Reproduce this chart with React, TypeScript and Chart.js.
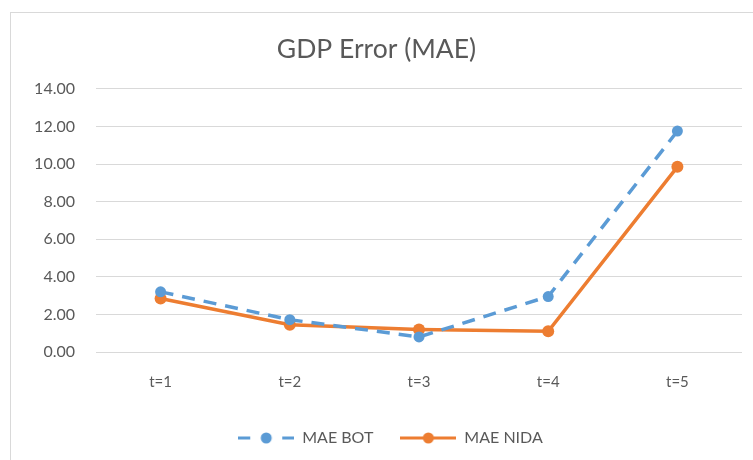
import React, { useEffect, useRef } from "react";
import { Chart, registerables } from "chart.js";

Chart.register(...registerables);

const categories = ["t=1", "t=2", "t=3", "t=4", "t=5"];
const maeBot = [3.2, 1.72, 0.8, 2.95, 11.75];
const maeNida = [2.85, 1.45, 1.2, 1.1, 9.85];
const yTicks = [0, 2, 4, 6, 8, 10, 12, 14];

const BLUE = "#5B9BD5";
const ORANGE = "#ED7D31";
const TEXT = "#595959";
const FONT = "Lato, 'Open Sans', sans-serif";

function makeLegendIcon(color: string, dashed: boolean): HTMLCanvasElement {
  const c = document.createElement("canvas");
  c.width = 56;
  c.height = 14;
  const ctx = c.getContext("2d")!;
  ctx.strokeStyle = color;
  ctx.fillStyle = color;
  ctx.lineWidth = 3;
  ctx.beginPath();
  if (dashed) {
    ctx.moveTo(0, 7);
    ctx.lineTo(12, 7);
    ctx.moveTo(44, 7);
    ctx.lineTo(56, 7);
  } else {
    ctx.moveTo(0, 7);
    ctx.lineTo(56, 7);
  }
  ctx.stroke();
  ctx.beginPath();
  ctx.arc(28, 7, 5.5, 0, Math.PI * 2);
  ctx.fill();
  return c;
}

const legendShift = {
  id: "legendShift",
  afterLayout(chart: any) {
    const lg = chart.legend;
    if (lg) {
      lg.left += 14;
      lg.right += 14;
    }
  },
};

export default function App() {
  const ref = useRef<HTMLCanvasElement | null>(null);

  useEffect(() => {
    if (!ref.current) return;
    const icons = [makeLegendIcon(BLUE, true), makeLegendIcon(ORANGE, false)];
    const chart = new Chart(ref.current, {
      type: "line",
      data: {
        labels: categories,
        datasets: [
          {
            label: "MAE BOT",
            data: maeBot,
            borderColor: BLUE,
            backgroundColor: BLUE,
            borderWidth: 3.5,
            borderDash: [13, 9],
            pointRadius: 5.5,
            pointBorderWidth: 0,
            pointBackgroundColor: BLUE,
            tension: 0,
          },
          {
            label: "MAE NIDA",
            data: maeNida,
            borderColor: ORANGE,
            backgroundColor: ORANGE,
            borderWidth: 3.5,
            pointRadius: 6,
            pointBorderWidth: 0,
            pointBackgroundColor: ORANGE,
            tension: 0,
          },
        ],
      },
      plugins: [legendShift],
      options: {
        animation: false,
        responsive: false,
        layout: { padding: { left: 0, right: 11, top: 0, bottom: 4 } },
        plugins: {
          title: {
            display: true,
            text: "GDP Error (MAE)",
            color: TEXT,
            font: { family: FONT, size: 26.5, weight: "normal" },
            padding: { top: 21, bottom: 23 },
          },
          legend: {
            display: true,
            position: "bottom",
            labels: {
              color: TEXT,
              font: { family: FONT, size: 16 },
              usePointStyle: true,
              pointStyleWidth: 56,
              padding: 27,
              generateLabels: (ch: any) =>
                ch.data.datasets.map((ds: any, i: number) => ({
                  text: ds.label,
                  fillStyle: ds.borderColor,
                  strokeStyle: ds.borderColor,
                  pointStyle: icons[i],
                  lineWidth: 0,
                  hidden: false,
                  datasetIndex: i,
                  fontColor: TEXT,
                })),
            },
          },
          tooltip: { enabled: false },
        },
        scales: {
          x: {
            offset: true,
            grid: { display: false, drawTicks: false, offset: true },
            border: { display: false },
            ticks: {
              color: TEXT,
              font: { family: FONT, size: 15 },
              padding: 21,
            },
            afterFit: (s: any) => {
              s.height = 51;
            },
          },
          y: {
            min: 0,
            max: 14,
            grid: { color: "#D9D9D9", lineWidth: 1, drawTicks: false },
            border: { display: false },
            afterBuildTicks: (s: any) => {
              s.ticks = yTicks.map((v) => ({ value: v }));
            },
            ticks: {
              color: TEXT,
              font: { family: FONT, size: 16 },
              padding: 21,
              callback: (v: any) => Number(v).toFixed(2),
            },
            afterFit: (s: any) => {
              s.width = 85;
            },
          },
        },
      },
    });
    return () => chart.destroy();
  }, []);

  return (
    <div
      style={{
        position: "fixed",
        left: 10,
        top: 12,
        width: 743,
        height: 448,
        borderLeft: "1px solid #D9D9D9",
        borderTop: "1px solid #D9D9D9",
        background: "#fff",
        boxSizing: "border-box",
      }}
    >
      <canvas ref={ref} width={742} height={447} style={{ display: "block" }} />
    </div>
  );
}
